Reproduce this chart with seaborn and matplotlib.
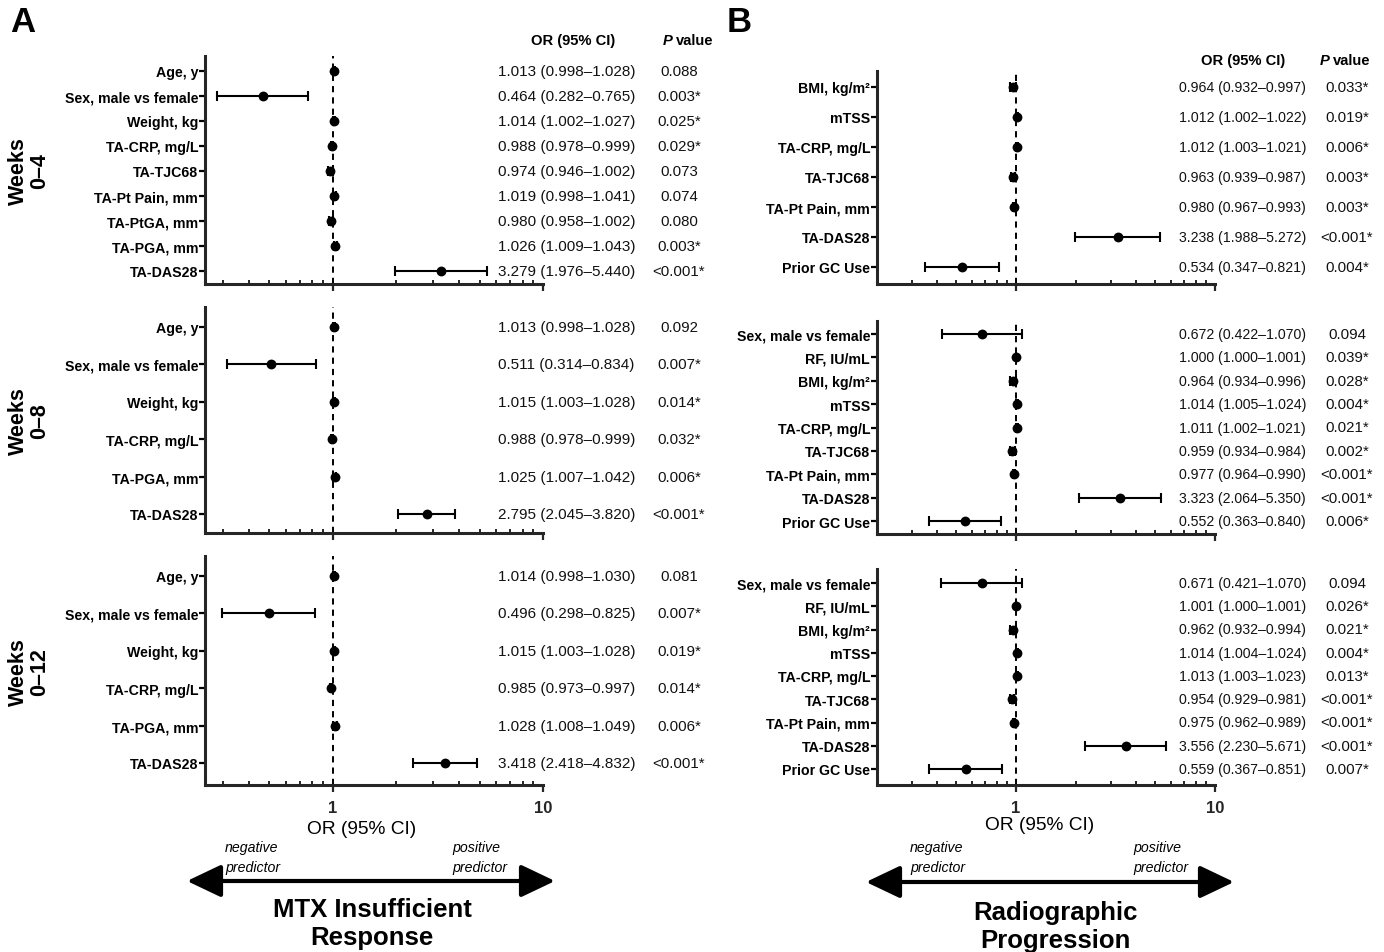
import matplotlib
matplotlib.use("Agg")
import matplotlib.pyplot as plt
import matplotlib.transforms as mtransforms
from matplotlib.patches import FancyArrowPatch, ArrowStyle
from matplotlib.ticker import FixedLocator, FixedFormatter, LogLocator, NullFormatter
import seaborn as sns
import pandas as pd

# ---------------- data ----------------
# Panel A: MTX insufficient response
a_w4_labels = ["Age, y", "Sex, male vs female", "Weight, kg", "TA-CRP, mg/L", "TA-TJC68",
               "TA-Pt Pain, mm", "TA-PtGA, mm", "TA-PGA, mm", "TA-DAS28"]
a_w4_or = [1.013, 0.464, 1.014, 0.988, 0.974, 1.019, 0.980, 1.026, 3.279]
a_w4_lo = [0.998, 0.282, 1.002, 0.978, 0.946, 0.998, 0.958, 1.009, 1.976]
a_w4_hi = [1.028, 0.765, 1.027, 0.999, 1.002, 1.041, 1.002, 1.043, 5.440]
a_w4_p = ["0.088", "0.003*", "0.025*", "0.029*", "0.073", "0.074", "0.080", "0.003*", "<0.001*"]

a_w8_labels = ["Age, y", "Sex, male vs female", "Weight, kg", "TA-CRP, mg/L", "TA-PGA, mm", "TA-DAS28"]
a_w8_or = [1.013, 0.511, 1.015, 0.988, 1.025, 2.795]
a_w8_lo = [0.998, 0.314, 1.003, 0.978, 1.007, 2.045]
a_w8_hi = [1.028, 0.834, 1.028, 0.999, 1.042, 3.820]
a_w8_p = ["0.092", "0.007*", "0.014*", "0.032*", "0.006*", "<0.001*"]

a_w12_labels = ["Age, y", "Sex, male vs female", "Weight, kg", "TA-CRP, mg/L", "TA-PGA, mm", "TA-DAS28"]
a_w12_or = [1.014, 0.496, 1.015, 0.985, 1.028, 3.418]
a_w12_lo = [0.998, 0.298, 1.003, 0.973, 1.008, 2.418]
a_w12_hi = [1.030, 0.825, 1.028, 0.997, 1.049, 4.832]
a_w12_p = ["0.081", "0.007*", "0.019*", "0.014*", "0.006*", "<0.001*"]

# Panel B: radiographic progression
b_w4_labels = ["BMI, kg/m²", "mTSS", "TA-CRP, mg/L", "TA-TJC68", "TA-Pt Pain, mm", "TA-DAS28", "Prior GC Use"]
b_w4_or = [0.964, 1.012, 1.012, 0.963, 0.980, 3.238, 0.534]
b_w4_lo = [0.932, 1.002, 1.003, 0.939, 0.967, 1.988, 0.347]
b_w4_hi = [0.997, 1.022, 1.021, 0.987, 0.993, 5.272, 0.821]
b_w4_p = ["0.033*", "0.019*", "0.006*", "0.003*", "0.003*", "<0.001*", "0.004*"]

b_w8_labels = ["Sex, male vs female", "RF, IU/mL", "BMI, kg/m²", "mTSS", "TA-CRP, mg/L", "TA-TJC68",
               "TA-Pt Pain, mm", "TA-DAS28", "Prior GC Use"]
b_w8_or = [0.672, 1.000, 0.964, 1.014, 1.011, 0.959, 0.977, 3.323, 0.552]
b_w8_lo = [0.422, 1.000, 0.934, 1.005, 1.002, 0.934, 0.964, 2.064, 0.363]
b_w8_hi = [1.070, 1.001, 0.996, 1.024, 1.021, 0.984, 0.990, 5.350, 0.840]
b_w8_p = ["0.094", "0.039*", "0.028*", "0.004*", "0.021*", "0.002*", "<0.001*", "<0.001*", "0.006*"]

b_w12_labels = ["Sex, male vs female", "RF, IU/mL", "BMI, kg/m²", "mTSS", "TA-CRP, mg/L", "TA-TJC68",
                "TA-Pt Pain, mm", "TA-DAS28", "Prior GC Use"]
b_w12_or = [0.671, 1.001, 0.962, 1.014, 1.013, 0.954, 0.975, 3.556, 0.559]
b_w12_lo = [0.421, 1.000, 0.932, 1.004, 1.003, 0.929, 0.962, 2.230, 0.367]
b_w12_hi = [1.070, 1.001, 0.994, 1.024, 1.023, 0.981, 0.989, 5.671, 0.851]
b_w12_p = ["0.094", "0.026*", "0.021*", "0.004*", "0.013*", "<0.001*", "<0.001*", "<0.001*", "0.007*"]

week_labels = ["Weeks\n0–4", "Weeks\n0–8", "Weeks\n0–12"]
x_tick_values = [1, 10]
x_tick_labels = ["1", "10"]

# ---------------- style ----------------
sns.set_theme(style="ticks")
FAM = ["Liberation Sans", "DejaVu Sans"]
plt.rcParams["font.family"] = FAM
plt.rcParams["axes.linewidth"] = 2.2
plt.rcParams["text.color"] = "black"

W, H = 1384, 953
fig = plt.figure(figsize=(W / 100, H / 100), dpi=100)


def fx(px):
    return px / W


def fy(py):
    return 1 - py / H


def panel(box, rows, labels, ors, los, his, ps, xlim, show_x, or_x, p_x, or_fs, p_fs):
    left, right, top, bottom = box
    first_row, last_row = rows
    ax = fig.add_axes([fx(left), fy(bottom), (right - left) / W, (bottom - top) / H])
    n = len(labels)
    spacing = (last_row - first_row) / (n - 1)
    ytop = -(first_row - top) / spacing
    ybot = (n - 1) + (bottom - last_row) / spacing
    df = pd.DataFrame({"label": labels, "OR": ors, "lo": los, "hi": his,
                       "pos": list(range(n))})
    ax.set_xscale("log")
    ax.axvline(1, ls=(0, (3.2, 2.6)), color="black", lw=1.4, zorder=1)
    ax.errorbar(df["OR"], df["pos"], xerr=[df["OR"] - df["lo"], df["hi"] - df["OR"]],
                fmt="none", ecolor="black", elinewidth=1.5, capsize=3.5, capthick=1.5, zorder=2)
    sns.scatterplot(data=df, x="OR", y="pos", ax=ax, color="black", s=50,
                    linewidth=0, zorder=3, legend=False)
    ax.set_xlim(*xlim)
    ax.set_ylim(ybot, ytop)
    ax.set_xlabel("")
    ax.set_ylabel("")
    ax.set_yticks(range(n))
    ax.set_yticklabels(labels, fontweight="bold", fontsize=10.2)
    ax.tick_params(axis="y", length=4, width=1.6, pad=1, colors="black")
    ax.xaxis.set_major_locator(FixedLocator(x_tick_values))
    if show_x:
        ax.xaxis.set_major_formatter(FixedFormatter(x_tick_labels))
    else:
        ax.xaxis.set_major_formatter(NullFormatter())
    ax.xaxis.set_minor_locator(LogLocator(base=10, subs=range(2, 10)))
    ax.xaxis.set_minor_formatter(NullFormatter())
    ax.tick_params(axis="x", which="major", length=5, width=1.6, direction="out", pad=6)
    ax.tick_params(axis="x", which="minor", length=3, width=1.4, direction="in")
    for t in ax.get_xticklabels():
        t.set_fontweight("bold")
        t.set_fontsize(12)
    sns.despine(ax=ax)
    ax.patch.set_alpha(0)
    trans = mtransforms.blended_transform_factory(fig.transFigure, ax.transData)
    for i in range(n):
        s = f"{ors[i]:.3f} ({los[i]:.3f}–{his[i]:.3f})"
        ax.text(fx(or_x), i, s, transform=trans, ha="left", va="center", fontsize=or_fs,
                color="#111111")
        ax.text(fx(p_x), i, ps[i], transform=trans, ha="center", va="center", fontsize=p_fs,
                color="#111111")
    return ax


# Panel A
A_L, A_R = 205, 543
A_XLIM = (0.247, 10)
panel((A_L, A_R, 57, 285), (72, 272), a_w4_labels, a_w4_or, a_w4_lo, a_w4_hi, a_w4_p,
      A_XLIM, False, 498, 679, 11, 10.8)
panel((A_L, A_R, 308, 534), (328, 515), a_w8_labels, a_w8_or, a_w8_lo, a_w8_hi, a_w8_p,
      A_XLIM, False, 498, 679, 11, 10.8)
panel((A_L, A_R, 557, 786), (577, 764), a_w12_labels, a_w12_or, a_w12_lo, a_w12_hi, a_w12_p,
      A_XLIM, True, 498, 679, 11, 10.8)

# Panel B
B_L, B_R = 877, 1215
B_XLIM = (0.2, 10)
panel((B_L, B_R, 72, 285), (88, 268), b_w4_labels, b_w4_or, b_w4_lo, b_w4_hi, b_w4_p,
      B_XLIM, False, 1179, 1347, 10.2, 10.8)
panel((B_L, B_R, 322, 535), (335, 522), b_w8_labels, b_w8_or, b_w8_lo, b_w8_hi, b_w8_p,
      B_XLIM, False, 1179, 1347, 10.2, 10.8)
panel((B_L, B_R, 570, 786), (584, 770), b_w12_labels, b_w12_or, b_w12_lo, b_w12_hi, b_w12_p,
      B_XLIM, True, 1179, 1347, 10.2, 10.8)

# Panel letters
fig.text(fx(10), fy(22), "A", fontsize=25, fontweight="bold", ha="left", va="center")
fig.text(fx(727), fy(22), "B", fontsize=25, fontweight="bold", ha="left", va="center")

# Column headers
for (or_c, p_end, y) in [(573, 673, 41), (1243, 1330, 61)]:
    fig.text(fx(or_c), fy(y), "OR (95% CI)", fontsize=10.6, fontweight="bold", ha="center", va="center")
    fig.text(fx(p_end), fy(y), "P", fontsize=10.6, fontweight="bold", style="italic", ha="right", va="center")
    fig.text(fx(p_end + 3), fy(y), "value", fontsize=10.6, fontweight="bold", ha="left", va="center")

# Week labels
for lab, yc in zip(week_labels, [171, 421, 672]):
    fig.text(fx(29), fy(yc), lab, fontsize=15.5, fontweight="bold", rotation=90,
             ha="center", va="center", multialignment="center", linespacing=1.05)

# x-axis labels
fig.text(fx(362), fy(830), "OR (95% CI)", fontsize=13.8, ha="center", va="center")
fig.text(fx(1040), fy(825), "OR (95% CI)", fontsize=13.8, ha="center", va="center")

# predictor notes
for (xn, xp) in [(225, 452), (910, 1133)]:
    fig.text(fx(xn), fy(858), "negative\npredictor", fontsize=10.2, style="italic", ha="left",
             va="center", linespacing=1.5)
    fig.text(fx(xp), fy(858), "positive\npredictor", fontsize=10.2, style="italic", ha="left",
             va="center", linespacing=1.5)

# double arrows
for (x0, x1, y) in [(187, 555, 882), (866, 1234, 883)]:
    arr = FancyArrowPatch((fx(x0), fy(y)), (fx(x1), fy(y)), transform=fig.transFigure,
                          arrowstyle=ArrowStyle("<|-|>", head_length=2.1, head_width=1.0),
                          mutation_scale=10, lw=3, color="black", shrinkA=0, shrinkB=0)
    fig.add_artist(arr)

# bottom titles
fig.text(fx(372), fy(924), "MTX Insufficient\nResponse", fontsize=18.5, fontweight="bold",
         ha="center", va="center", linespacing=1.2)
fig.text(fx(1055), fy(927), "Radiographic\nProgression", fontsize=18.5, fontweight="bold",
         ha="center", va="center", linespacing=1.2)

fig.savefig("out.png", dpi=100, facecolor="white")
